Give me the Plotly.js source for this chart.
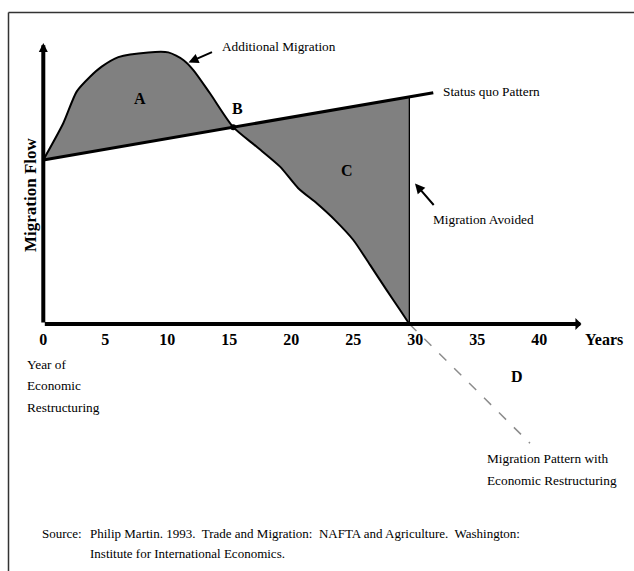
<!DOCTYPE html>
<html>
<head>
<meta charset="utf-8">
<script src="https://cdn.plot.ly/plotly-3.0.1.min.js"></script>
<style>
  html, body { margin: 0; padding: 0; background: #ffffff; }
  #chart { width: 634px; height: 571px; }
</style>
</head>
<body>
<div id="chart"></div>
<script>
// ---- data ----
// migration pattern with economic restructuring (years, migration flow)
const curveYears = [0, 1.61, 2.69, 3.77, 4.71, 6.05, 8.47, 10.08, 11.29, 12.10, 13.44, 15.32,
                    17.21, 19.09, 20.56, 22.05, 23.52, 25.0, 26.35, 27.69, 28.77, 29.52];
const curveFlow  = [58.6, 71.7, 83.0, 88.3, 91.9, 95.3, 97.0, 97.0, 94.3, 90.7, 82.4, 70.3,
                    63.3, 56.2, 48.5, 43.1, 37.1, 30.0, 21.1, 12.1, 5.0, 0];
// status quo pattern
const statusYears = [0, 29.52, 31.45];
const statusFlow  = [58.6, 81.0, 82.6];
// continuation of the restructuring pattern below the axis (D)
const contYears = [29.52, 39.25];
const contFlow  = [0, -42.6];
// crossing point B
const bYear = [15.32];
const bFlow = [70.3];
// axis extents
const axisEndYear = 43.4;
const axisTopFlow = 100.4;
// x tick labels
const tickYears  = [0, 5, 10, 15, 20, 25, 30, 35, 40];
const tickLabels = ['0', '5', '10', '15', '20', '25', '30', '35', '40'];
// region labels
const regionText  = ['A', 'B', 'C', 'D'];
const regionYears = [7.8, 15.65, 24.52, 38.18];
const regionFlow  = [80.7, 76.8, 54.7, -18.6];

// ---- layout helpers ----
const W = 634, H = 571;
const FONT = 'Liberation Serif, Times New Roman, serif';
function px2paperX(px) { return px / W; }
function px2paperY(py) { return 1 - py / H; }

const traces = [
  // status quo up to the vertical drop (base of the shaded area)
  { x: statusYears.slice(0, 2), y: statusFlow.slice(0, 2), mode: 'lines',
    line: { width: 1, color: '#000' }, hoverinfo: 'skip', showlegend: false },
  // restructuring curve, shaded against the status quo
  { x: curveYears, y: curveFlow, mode: 'lines', fill: 'tonexty', fillcolor: '#808080',
    line: { color: '#000', width: 2, shape: 'spline', smoothing: 0.7 }, showlegend: false },
  { x: [statusYears[1], statusYears[1]], y: [0, statusFlow[1]], mode: 'lines',
    line: { color: '#000', width: 1.3 }, showlegend: false },
  { x: contYears, y: contFlow, mode: 'lines',
    line: { color: '#8c8c8c', width: 1.5, dash: '10px,11px' }, showlegend: false },
  { x: statusYears, y: statusFlow, mode: 'lines',
    line: { color: '#000', width: 3 }, showlegend: false },
  { x: bYear, y: bFlow, mode: 'markers',
    marker: { color: '#000', size: 6 }, showlegend: false }
];

const annotations = [];
// axes as arrows
annotations.push({ xref: 'x', yref: 'y', axref: 'x', ayref: 'y',
  x: axisEndYear, y: 0, ax: 0, ay: 0, text: '', showarrow: true,
  arrowhead: 1, arrowwidth: 4, arrowsize: 0.5, arrowcolor: '#000', standoff: 0 });
annotations.push({ xref: 'x', yref: 'y', axref: 'x', ayref: 'y',
  x: 0, y: axisTopFlow, ax: 0, ay: 0, text: '', showarrow: true,
  arrowhead: 2, arrowwidth: 4, arrowsize: 0.45, arrowcolor: '#000', standoff: 0 });
// pointer arrows
annotations.push({ xref: 'paper', yref: 'paper', x: px2paperX(188.5), y: px2paperY(62.5),
  ax: 25, ay: -11, text: '', showarrow: true, arrowhead: 2, arrowwidth: 2, arrowsize: 1,
  arrowcolor: '#000' });
annotations.push({ xref: 'paper', yref: 'paper', x: px2paperX(415), y: px2paperY(183.5),
  ax: 20, ay: 23, text: '', showarrow: true, arrowhead: 2, arrowwidth: 2, arrowsize: 1,
  arrowcolor: '#000' });
// region letters
for (let i = 0; i < regionText.length; i++) {
  annotations.push({ xref: 'x', yref: 'y', x: regionYears[i], y: regionFlow[i],
    xanchor: 'center', yanchor: 'middle',
    text: '<b>' + regionText[i] + '</b>', showarrow: false,
    font: { family: FONT, size: 16, color: '#000' } });
}
// plain text notes
function note(txt, left, cy, size, bold) {
  annotations.push({ xref: 'paper', yref: 'paper', x: px2paperX(left), y: px2paperY(cy),
    xanchor: 'left', yanchor: 'middle', showarrow: false,
    text: bold ? '<b>' + txt + '</b>' : txt,
    font: { family: FONT, size: size, color: '#000' } });
}
note('Additional Migration', 220, 46.5, 13.3);
note('Status quo Pattern', 441, 92, 13.3);
note('Migration Avoided', 431, 220, 13.3);
note('Years', 583, 339, 16, true);
note('Year of', 25, 364, 13.3);
note('Economic', 25, 385.5, 13.3);
note('Restructuring', 25, 407.5, 13.3);
note('Migration Pattern with', 485, 458, 13.3);
note('Economic Restructuring', 485, 480, 13.3);
note('Source:', 40, 533, 13);
note('Philip Martin. 1993.\u00a0 Trade and Migration:\u00a0 NAFTA and Agriculture.\u00a0 Washington:', 88, 533, 13);
note('Institute for International Economics.', 88, 553, 13);
// y axis title
annotations.push({ xref: 'paper', yref: 'paper', x: px2paperX(30), y: px2paperY(195),
  xanchor: 'center', yanchor: 'middle',
  text: '<b>Migration Flow</b>', textangle: -90, showarrow: false,
  font: { family: FONT, size: 17, color: '#000' } });

const layout = {
  width: W, height: H,
  margin: { l: 0, r: 0, t: 0, b: 0 },
  paper_bgcolor: '#fff', plot_bgcolor: '#fff',
  showlegend: false,
  font: { family: FONT, color: '#000' },
  xaxis: {
    range: [-43.3 / 12.4, (W - 43.3) / 12.4],
    anchor: 'free', position: (H - 324) / H,
    showgrid: false, zeroline: false, showline: false, ticks: '',
    tickmode: 'array', tickvals: tickYears, ticktext: tickLabels,
    tickfont: { family: FONT, size: 16, color: '#000', weight: 'bold' },
    ticklabelshift: 2.6, ticklabelstandoff: 4,
    fixedrange: true
  },
  yaxis: {
    range: [(324 - H) / 2.8, 324 / 2.8],
    showgrid: false, zeroline: false, showline: false, showticklabels: false, ticks: '',
    fixedrange: true
  },
  shapes: [
    { type: 'line', xref: 'paper', yref: 'paper', x0: px2paperX(8.5), x1: 1,
      y0: px2paperY(12.5), y1: px2paperY(12.5), line: { color: '#333', width: 1.5 } },
    { type: 'line', xref: 'paper', yref: 'paper', x0: px2paperX(8.5), x1: px2paperX(8.5),
      y0: px2paperY(12.5), y1: 0, line: { color: '#333', width: 1.5 } }
  ],
  annotations: annotations
};

Plotly.newPlot('chart', traces, layout, { staticPlot: true, displayModeBar: false });
</script>
</body>
</html>
